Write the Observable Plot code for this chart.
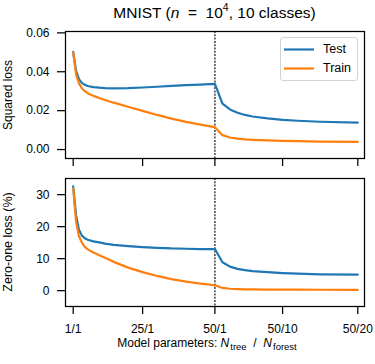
<!DOCTYPE html>
<html>
<head>
<meta charset="utf-8">
<script src="https://cdn.jsdelivr.net/npm/d3@7"></script>
<script src="https://cdn.jsdelivr.net/npm/@observablehq/plot@0.6"></script>
<style>
  html, body { margin: 0; padding: 0; background: white; }
  #chart { position: relative; width: 375px; height: 364px; font-family: "Liberation Sans", Arial, Helvetica, sans-serif; color: black; overflow: hidden; }
  #chart svg { position: absolute; left: 0; }
  .abs { position: absolute; white-space: nowrap; }
  .sub { font-size: 9.5px; position: relative; top: 3px; margin-left: 1px; }
</style>
</head>
<body>
<div id="chart"></div>
<script>
// ---- data ----
const seriesNames = ["Test", "Train"];
const treeCounts = [1, 2, 3, 4, 5, 6, 8, 10, 12, 15, 20, 25, 30, 35, 40, 45, 50]; // N_tree with N_forest = 1
const forestCounts = [2, 3, 4, 5, 6, 8, 10, 12, 15, 20]; // N_forest with N_tree = 50
const maxTree = 50;

const testSqTree  = [0.0502, 0.0405, 0.0362, 0.0343, 0.0333, 0.0327, 0.0321, 0.0318, 0.0316, 0.0315, 0.0316, 0.0319, 0.0323, 0.0327, 0.0331, 0.0334, 0.0338];
const trainSqTree = [0.0500, 0.0385, 0.0340, 0.0315, 0.0300, 0.0290, 0.0276, 0.0265, 0.0255, 0.0241, 0.0220, 0.0199, 0.0178, 0.0159, 0.0142, 0.0128, 0.0115];
const testSqForest  = [0.0236, 0.0206, 0.0189, 0.0178, 0.0170, 0.0160, 0.0153, 0.0148, 0.0143, 0.0138];
const trainSqForest = [0.0074, 0.0062, 0.0056, 0.0052, 0.0050, 0.0047, 0.0045, 0.0043, 0.0041, 0.0039];

const testZoTree  = [32.6, 23.5, 19.0, 17.2, 16.4, 15.9, 15.4, 15.1, 14.7, 14.3, 13.9, 13.6, 13.4, 13.2, 13.1, 13.0, 13.0];
const trainZoTree = [32.0, 21.5, 17.0, 15.0, 13.7, 12.9, 11.9, 11.1, 10.3, 9.0, 7.2, 5.8, 4.6, 3.6, 2.8, 2.2, 1.7];
const testZoForest  = [8.9, 7.5, 6.8, 6.4, 6.1, 5.8, 5.5, 5.3, 5.1, 5.0];
const trainZoForest = [0.85, 0.6, 0.5, 0.42, 0.38, 0.34, 0.31, 0.30, 0.28, 0.27];

const xTickLabels = ["1/1", "25/1", "50/1", "50/10", "50/20"];
const sqTicks = [0, 0.02, 0.04, 0.06];
const zoTicks = [0, 10, 20, 30];

// ---- layout helpers ----
const forestStep = 2.6; // axis spacing of one extra tree in the forest section
const pos = (nTree, nForest) => nForest === 1 ? nTree : maxTree + (nForest - 1) * forestStep;
const xTickPos = xTickLabels.map(s => { const [a, b] = s.split("/").map(Number); return pos(a, b); });
const labelAt = new Map(xTickPos.map((p, i) => [p, xTickLabels[i]]));
const boundaryPos = pos(maxTree, 1);

function buildRows(testTree, trainTree, testForest, trainForest) {
  const rows = [];
  const add = (name, treeVals, forestVals) => {
    treeCounts.forEach((n, i) => rows.push({series: name, x: pos(n, 1), value: treeVals[i]}));
    forestCounts.forEach((f, i) => rows.push({series: name, x: pos(maxTree, f), value: forestVals[i]}));
  };
  add(seriesNames[0], testTree, testForest);
  add(seriesNames[1], trainTree, trainForest);
  return rows;
}

const sqRows = buildRows(testSqTree, trainSqTree, testSqForest, trainSqForest);
const zoRows = buildRows(testZoTree, trainZoTree, testZoForest, trainZoForest);

function panel({rows, yDomain, yTicks, yFormat, showLabels, height, marginTop, marginBottom}) {
  return Plot.plot({
    width: 375, height, marginLeft: 65, marginRight: 11, marginTop, marginBottom,
    style: {fontFamily: '"Liberation Sans", Arial, Helvetica, sans-serif', fontSize: "12px", color: "black", background: "transparent", overflow: "visible"},
    x: {type: "linear", domain: [-1.66, 101.72]},
    y: {domain: yDomain},
    color: {domain: seriesNames, range: ["#1f77b4", "#ff7f0e"]},
    marks: [
      Plot.ruleX([boundaryPos], {stroke: "#111", strokeWidth: 1.2, strokeDasharray: "2,1.3"}),
      Plot.line(rows, {x: "x", y: "value", z: "series", stroke: "series", strokeWidth: 2.2}),
      Plot.frame({stroke: "black", strokeWidth: 1.25}),
      Plot.axisY({ticks: yTicks, tickFormat: yFormat, tickSize: 8, tickPadding: 8, label: null, strokeWidth: 1.25, fontSize: 12}),
      Plot.axisX({ticks: xTickPos, tickFormat: showLabels ? (d => labelAt.get(d)) : (() => ""), tickSize: 8, tickPadding: 10, label: null, strokeWidth: 1.25, fontSize: 12})
    ]
  });
}

const chart = document.getElementById("chart");

const topPanel = panel({rows: sqRows, yDomain: [-0.0046, 0.0607], yTicks: sqTicks, yFormat: d3.format(".2f"), showLabels: false, height: 166, marginTop: 31, marginBottom: 8});
topPanel.style.top = "0px";
chart.appendChild(topPanel);

const bottomPanel = panel({rows: zoRows, yDomain: [-4.95, 35.05], yTicks: zoTicks, yFormat: d3.format("d"), showLabels: true, height: 194, marginTop: 8, marginBottom: 58});
bottomPanel.style.top = "170px";
chart.appendChild(bottomPanel);

// ---- texts ----
function addText(html, css) {
  const d = document.createElement("div");
  d.className = "abs";
  d.innerHTML = html;
  Object.assign(d.style, css);
  chart.appendChild(d);
  return d;
}

addText('MNIST (<i>n</i>&nbsp;&nbsp;=&nbsp;&nbsp;10<sup style="font-size:10.5px;position:relative;top:-1px;vertical-align:top;line-height:9px">4</sup>, 10 classes)',
  {left: "65px", width: "299px", textAlign: "center", top: "4px", fontSize: "15.5px", lineHeight: "17px"});

addText("Squared loss", {left: "-52px", width: "120px", textAlign: "center", top: "87.5px", fontSize: "12px", lineHeight: "14px", transform: "rotate(-90deg)"});
addText("Zero-one loss (%)", {left: "-52px", width: "120px", textAlign: "center", top: "235px", fontSize: "12.5px", lineHeight: "14px", transform: "rotate(-90deg)"});

addText('Model parameters: <i>N</i><span class="sub">tree</span>&nbsp;&nbsp;/&nbsp;&nbsp;<i>N</i><span class="sub">forest</span>',
  {left: "57px", width: "300px", textAlign: "center", top: "336px", fontSize: "12px", lineHeight: "14px"});

// ---- legend ----
const legend = addText("", {left: "280px", top: "37px", width: "76px", height: "42px", border: "1px solid #d3d3d3", borderRadius: "3px", background: "rgba(255,255,255,0.85)", fontSize: "12.5px"});
seriesNames.forEach((name, i) => {
  const color = ["#1f77b4", "#ff7f0e"][i];
  const row = document.createElement("div");
  Object.assign(row.style, {position: "absolute", left: "3px", top: (4 + i * 19.3) + "px", height: "15px", lineHeight: "15px", whiteSpace: "nowrap"});
  row.innerHTML = `<svg width="30" height="15" style="position:absolute;left:0;top:0"><line x1="0" x2="30" y1="7.5" y2="7.5" stroke="${color}" stroke-width="2.2"/></svg><span style="position:absolute;left:39px;top:0">${name}</span>`;
  legend.appendChild(row);
});
</script>
</body>
</html>
